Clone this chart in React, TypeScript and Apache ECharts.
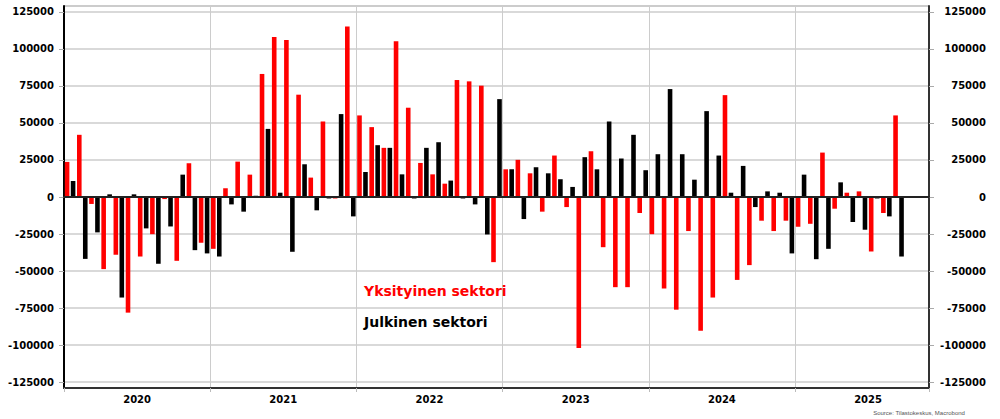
import React, { useEffect, useRef } from "react";
import * as echarts from "echarts";

const years = ["2020", "2021", "2022", "2023", "2024", "2025"];
const monthNames = ["01", "02", "03", "04", "05", "06", "07", "08", "09", "10", "11", "12"];
// axis runs Jan 2020 .. Nov 2025 (71 months)
const categories: string[] = [];
years.forEach((y) => monthNames.forEach((m) => categories.push(`${y}-${m}`)));
categories.splice(71);

const yearLabelPositions = [6, 18, 30, 42, 54, 66];
const yTicks = [-125000, -100000, -75000, -50000, -25000, 0, 25000, 50000, 75000, 100000, 125000];

const privateSector = [
  23700, 42000, -4700, -48700, -39000, -78100, -40200, -25100, -1400, -43100, 22800, -30900,
  -35000, 5900, 23900, 15100, 83100, 108100, 106100, 69100, 13100, 51000, -1000, 115100,
  55100, 47200, 33200, 105200, 60300, 23000, 15300, 9000, 79000, 78100, 75200, -44000,
  18700, 25100, 16000, -9900, 28000, -6800, -102000, 30900, -33900, -60900, -60900, -10800,
  -25100, -61800, -76100, -23000, -90300, -67900, 68800, -56000, -46000, -16000, -23000, -16000,
  -20100, -18100, 30000, -7900, 2900, 3800, -36800, -10800, 55100,
];

const publicSector = [
  10800, -41800, -23900, 1800, -67900, 1800, -21200, -45100, -19900, 15100, -35900, -38100,
  -40200, -5000, -9900, 900, 46000, 2900, -37000, 22100, -9000, -1000, 56000, -13100,
  16900, 35000, 33200, 15300, -1000, 33200, 37000, 11100, -1000, -5000, -25300, 66100,
  18700, -14900, 20100, 16000, 12000, 6800, 26900, 18700, 51000, 26000, 42000, 18100,
  28900, 72900, 28900, 11700, 58000, 28000, 2900, 21000, -6800, 3800, 2900, -38100,
  15100, -42000, -35000, 9900, -16900, -22100, -1000, -13100, -40200,
];

const FONT = "DejaVu Sans";

export default function App() {
  const ref = useRef<HTMLDivElement>(null);
  useEffect(() => {
    if (!ref.current) return;
    const chart = echarts.init(ref.current, undefined, { renderer: "svg" });
    const yLabel = {
      customValues: yTicks,
      formatter: (v: number) => String(v),
      fontSize: 10,
      fontWeight: "bold",
      fontFamily: FONT,
      color: "#000",
    };
    chart.setOption({
      animation: false,
      backgroundColor: "#fff",
      grid: {
        left: 64,
        right: 71,
        top: 6,
        bottom: 31,
        show: true,
        borderColor: "#999",
        borderWidth: 1,
        backgroundColor: "#fff",
      },
      legend: {
        orient: "vertical",
        left: 354,
        top: 279,
        itemWidth: 0,
        itemHeight: 0,
        itemGap: 17,
        selectedMode: false,
        textStyle: { fontSize: 14, fontWeight: "bold", fontFamily: FONT },
        data: [
          { name: "Yksityinen sektori", textStyle: { color: "#ff0000" } },
          { name: "Julkinen sektori", textStyle: { color: "#000" } },
        ],
      },
      xAxis: [
        {
          type: "category",
          data: categories,
          boundaryGap: true,
          axisLine: { show: true, onZero: true, lineStyle: { color: "#222", width: 2 } },
          axisTick: { show: false },
          axisLabel: { show: false },
          splitLine: { show: false },
          z: 5,
        },
        {
          type: "value",
          min: 0,
          max: 71,
          interval: 12,
          position: "bottom",
          axisLine: { show: true, onZero: false, lineStyle: { color: "#333", width: 2 } },
          axisTick: { show: true, length: 4, lineStyle: { color: "#bbb" } },
          axisLabel: {
            customValues: yearLabelPositions,
            formatter: (v: number) => years[yearLabelPositions.indexOf(v)] ?? "",
            fontSize: 10,
            fontWeight: "bold",
            fontFamily: FONT,
            color: "#000",
            margin: 6,
          },
          splitLine: { show: true, lineStyle: { color: "#ccc", width: 1 } },
        },
      ],
      yAxis: [
        {
          type: "value",
          min: -129000,
          max: 129000,
          position: "left",
          axisLine: { show: true, lineStyle: { color: "#000", width: 2 } },
          axisTick: { show: true, length: 5, customValues: yTicks, lineStyle: { color: "#aaa" } },
          axisLabel: { ...yLabel, margin: 10 },
          splitLine: { show: true, lineStyle: { color: "#ccc", width: 1.5 } },
        },
        {
          type: "value",
          min: -129000,
          max: 129000,
          position: "right",
          axisLine: { show: true, lineStyle: { color: "#333", width: 2 } },
          axisTick: { show: true, length: 5, customValues: yTicks, lineStyle: { color: "#aaa" } },
          axisLabel: { ...yLabel, align: "right", margin: 57 },
          splitLine: { show: false },
        },
      ],
      series: [
        {
          name: "Yksityinen sektori",
          type: "bar",
          xAxisIndex: 0,
          yAxisIndex: 0,
          data: privateSector,
          barWidth: 4.6,
          barGap: "30%",
          itemStyle: { color: "#ff0000" },
        },
        {
          name: "Julkinen sektori",
          type: "bar",
          xAxisIndex: 0,
          yAxisIndex: 0,
          data: publicSector,
          barWidth: 4.6,
          barGap: "30%",
          itemStyle: { color: "#000000" },
        },
      ],
      graphic: [
        {
          type: "text",
          right: 35,
          bottom: 3,
          style: {
            text: "Source: Tilastokeskus, Macrobond",
            fontSize: 6,
            fontFamily: "Liberation Sans",
            fill: "#555",
          },
        },
      ],
    });
    return () => chart.dispose();
  }, []);
  return (
    <div
      ref={ref}
      style={{ position: "fixed", left: 0, top: 0, width: 1000, height: 419 }}
    />
  );
}
